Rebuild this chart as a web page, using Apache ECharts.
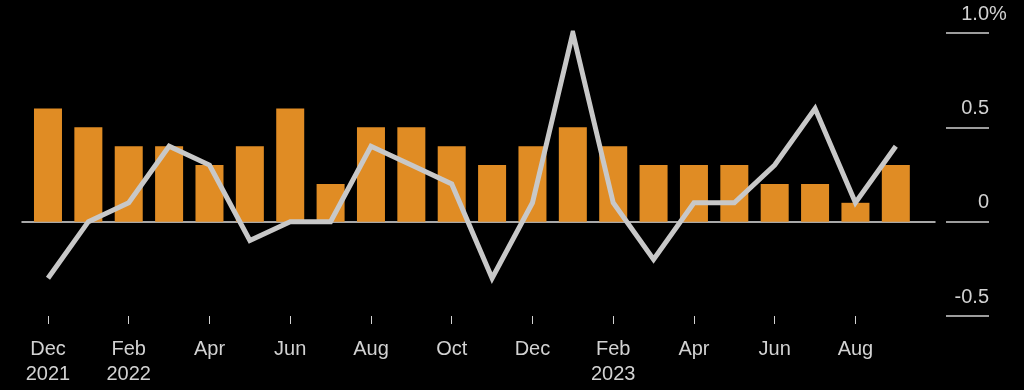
<!DOCTYPE html>
<html>
<head>
<meta charset="utf-8">
<script src="https://cdn.jsdelivr.net/npm/echarts@6/dist/echarts.min.js"></script>
<style>
html,body{margin:0;padding:0;background:#000;}
#c{width:1024px;height:390px;}
</style>
</head>
<body>
<div id="c"></div>
<script>
const months = ['Dec\n2021','Jan','Feb\n2022','Mar','Apr','May','Jun','Jul','Aug','Sep','Oct','Nov',
                'Dec','Jan','Feb\n2023','Mar','Apr','May','Jun','Jul','Aug','Sep'];
const barValues = [0.6,0.5,0.4,0.4,0.3,0.4,0.6,0.2,0.5,0.5,0.4,0.3,
                   0.4,0.5,0.4,0.3,0.3,0.3,0.2,0.2,0.1,0.3];
const lineValues = [-0.3,0,0.1,0.4,0.3,-0.1,0,0,0.4,0.3,0.2,-0.3,
                    0.1,1.0,0.1,-0.2,0.1,0.1,0.3,0.6,0.1,0.4];
const yTicks = [-0.5,0,0.5,1.0];
const yTickLabels = ['-0.5','0','0.5','1.0'];
const yUnit = '%';

const yMin = yTicks[0], yMax = yTicks[yTicks.length-1], yStep = 0.5;
const txt = '#d2d2d2';
const font = 'Liberation Sans';

const chart = echarts.init(document.getElementById('c'), null, {renderer:'canvas'});
chart.setOption({
  backgroundColor:'#000',
  animation:false,
  grid:[
    {left:27.8, right:108, top:33, bottom:74},
    {left:22, right:89, top:33, bottom:74},
    {left:946, right:35, top:33, bottom:74}
  ],
  xAxis:[
    {gridIndex:0, type:'category', data:months, boundaryGap:true,
     axisLine:{show:false, onZero:false},
     axisTick:{show:true, interval:1, alignWithLabel:true, length:8, lineStyle:{color:txt, width:1}},
     axisLabel:{interval:1, color:txt, fontFamily:font, fontSize:20, lineHeight:25, margin:21}},
    {gridIndex:1, type:'value', min:0, max:1,
     axisLine:{show:true, onZero:true, lineStyle:{color:'#e0e0e0', width:1.5}},
     axisTick:{show:false}, axisLabel:{show:false}, splitLine:{show:false}},
    {gridIndex:2, type:'value', min:0, max:1, show:false}
  ],
  yAxis:[
    {gridIndex:0, type:'value', min:yMin, max:yMax, interval:yStep, show:false},
    {gridIndex:1, type:'value', min:yMin, max:yMax, interval:yStep, show:false},
    {gridIndex:2, type:'value', min:yMin, max:yMax, interval:yStep, position:'right',
     axisLine:{show:false}, axisTick:{show:false},
     splitLine:{show:true, lineStyle:{color:'#d0d0d0', width:1.5}},
     axisLabel:{inside:true, margin:-17.8, color:txt, fontFamily:font, fontSize:20,
       verticalAlign:'bottom', padding:[0,0,9,0],
       formatter:function(v){
         const i = yTicks.findIndex(t=>Math.abs(t-v)<1e-9);
         if (i<0) return '';
         const last = i===yTicks.length-1;
         return '{n|'+yTickLabels[i]+'}{'+(last?'u':'h')+'|'+yUnit+'}';
       },
       rich:{
         n:{color:txt, fontFamily:font, fontSize:20},
         u:{color:txt, fontFamily:font, fontSize:20},
         h:{color:'rgba(0,0,0,0)', fontFamily:font, fontSize:20}
       }}}
  ],
  series:[
    {type:'bar', xAxisIndex:0, yAxisIndex:0, data:barValues, barWidth:28,
     itemStyle:{color:'#e08c24'}, z:2},
    {type:'line', xAxisIndex:0, yAxisIndex:0, data:lineValues, symbol:'none',
     lineStyle:{color:'#c8c8c8', width:5, join:'miter', cap:'butt'}, z:5}
  ]
});
</script>
</body>
</html>
